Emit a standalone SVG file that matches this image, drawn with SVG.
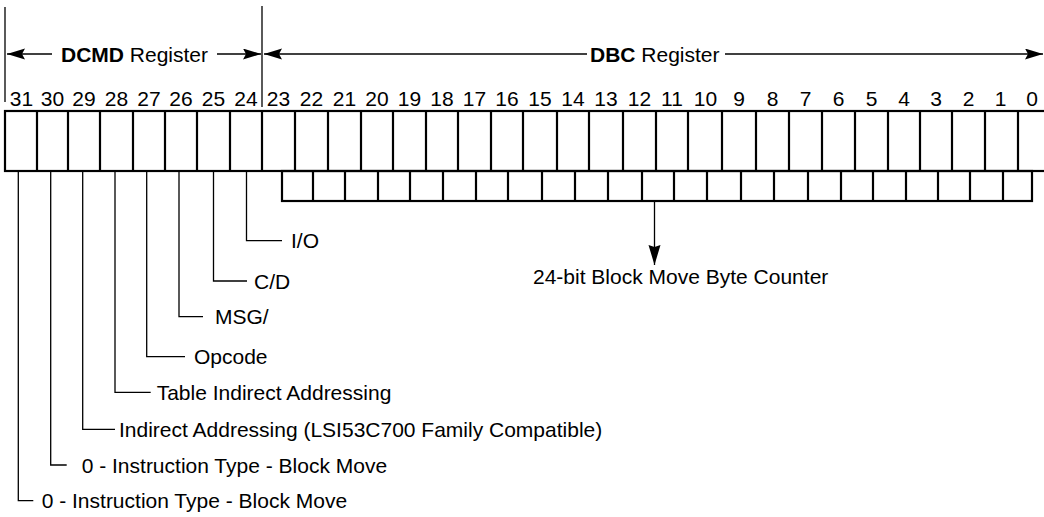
<svg xmlns="http://www.w3.org/2000/svg" width="1044" height="517" viewBox="0 0 1044 517">
<style>
text{font-family:"Liberation Sans",Arial,Helvetica,sans-serif;font-size:21px;fill:#000}
.b{font-weight:bold}
.num text{text-anchor:middle}
.thin{fill:none;stroke:#000;stroke-width:1.3}
.thick{fill:none;stroke:#000;stroke-width:2.2}
</style>
<defs>
<marker id="ah" markerUnits="userSpaceOnUse" markerWidth="19" markerHeight="12" refX="18" refY="5.5" orient="auto" viewBox="0 0 19 12">
<path d="M0,0 L18,5.5 L0,11 L3,5.5 z" fill="#000"/>
</marker>
<marker id="ahd" markerUnits="userSpaceOnUse" markerWidth="21" markerHeight="13" refX="20" refY="6" orient="auto" viewBox="0 0 21 13">
<path d="M0,0 L20,6 L0,12 L2,6 z" fill="#000"/>
</marker>
</defs>
<rect width="1044" height="517" fill="#fff"/>

<g id="dcmd-header">
<line class="thin" x1="5" y1="7" x2="5" y2="102"/>
<text x="61" y="61.5"><tspan class="b">DCMD</tspan> Register</text>
</g>
<g id="dbc-header">
<line class="thin" x1="262" y1="6" x2="262" y2="107"/>
<text x="590" y="61.5"><tspan class="b">DBC</tspan> Register</text>
</g>

<g id="bit-numbers" class="num">
<text x="21.5" y="106">31</text>
<text x="52.5" y="106">30</text>
<text x="84" y="106">29</text>
<text x="116.5" y="106">28</text>
<text x="149" y="106">27</text>
<text x="181" y="106">26</text>
<text x="213.5" y="106">25</text>
<text x="246" y="106">24</text>
<text x="278.5" y="106">23</text>
<text x="311.5" y="106">22</text>
<text x="344.5" y="106">21</text>
<text x="377" y="106">20</text>
<text x="409.5" y="106">19</text>
<text x="442" y="106">18</text>
<text x="474.5" y="106">17</text>
<text x="507" y="106">16</text>
<text x="540" y="106">15</text>
<text x="573" y="106">14</text>
<text x="606" y="106">13</text>
<text x="639.5" y="106">12</text>
<text x="672" y="106">11</text>
<text x="705.5" y="106">10</text>
<text x="739" y="106">9</text>
<text x="772.5" y="106">8</text>
<text x="805.5" y="106">7</text>
<text x="838.5" y="106">6</text>
<text x="871.5" y="106">5</text>
<text x="904" y="106">4</text>
<text x="936" y="106">3</text>
<text x="968.5" y="106">2</text>
<text x="1000.5" y="106">1</text>
<text x="1032" y="106">0</text>
</g>

<g id="register">
<rect class="thick" x="5" y="111" width="1046" height="60"/>
<path class="thick" d="M37,111V171M68,111V171M100,111V171M133,111V171M165,111V171M197,111V171M230,111V171M262,111V171M295,111V171M328,111V171M361,111V171M393,111V171M426,111V171M458,111V171M491,111V171M523,111V171M557,111V171M589,111V171M623,111V171M656,111V171M688,111V171M722,111V171M756,111V171M789,111V171M822,111V171M855,111V171M888,111V171M920,111V171M952,111V171M985,111V171M1018,111V171"/>
</g>

<g id="byte-counter">
<rect class="thick" x="282" y="171" width="750" height="30"/>
<path class="thick" d="M313,171V201M345,171V201M378,171V201M410,171V201M443,171V201M476,171V201M508,171V201M542,171V201M575,171V201M608,171V201M642,171V201M674,171V201M707,171V201M741,171V201M774,171V201M808,171V201M841,171V201M873,171V201M906,171V201M938,171V201M970,171V201M1003,171V201"/>
<text x="533" y="283.5">24-bit Block Move Byte Counter</text>
</g>

<g id="label-io"><text x="291" y="248.2">I/O</text></g>
<g id="label-cd"><text x="254" y="288.5">C/D</text></g>
<g id="label-msg"><text x="215" y="324.2">MSG/</text></g>
<g id="label-opcode"><text x="194" y="364.2">Opcode</text></g>
<g id="label-table"><text x="156.7" y="399.8">Table Indirect Addressing</text></g>
<g id="label-indirect"><text x="119" y="436.8">Indirect Addressing (LSI53C700 Family Compatible)</text></g>
<g id="label-type30"><text x="81.7" y="472.5">0 - Instruction Type - Block Move</text></g>
<g id="label-type31"><text x="41.7" y="508.2">0 - Instruction Type - Block Move</text></g>

<g id="connectors">
<line class="thin" x1="52" y1="54" x2="7" y2="54" marker-end="url(#ah)"/>
<line class="thin" x1="217" y1="54" x2="261" y2="54" marker-end="url(#ah)"/>
<line class="thin" x1="587" y1="54" x2="264" y2="54" marker-end="url(#ah)"/>
<line class="thin" x1="725" y1="54" x2="1043" y2="54" marker-end="url(#ah)"/>
<line class="thin" x1="654.5" y1="201" x2="654.5" y2="265" marker-end="url(#ahd)"/>
<path class="thin" d="M246.5,172V240.7H282"/>
<path class="thin" d="M213.5,172V281H247"/>
<path class="thin" d="M179,172V316.7H203"/>
<path class="thin" d="M146.7,172V356.7H185"/>
<path class="thin" d="M115,172V392.3H150.7"/>
<path class="thin" d="M82.7,172V429.3H115"/>
<path class="thin" d="M50.7,172V465H66.7"/>
<path class="thin" d="M18.3,172V500.7H33.3"/>
</g>
</svg>
